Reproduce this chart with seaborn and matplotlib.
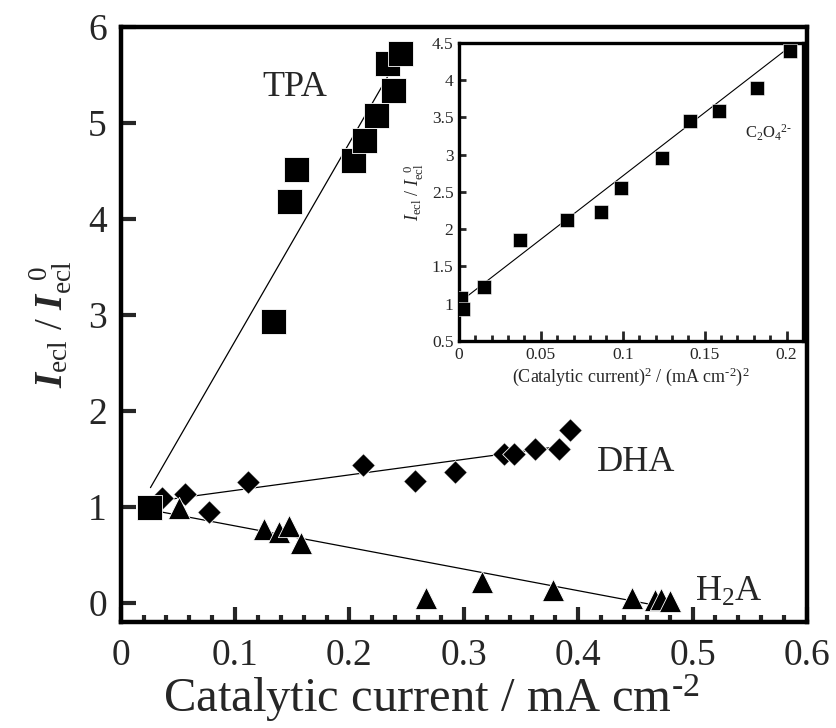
import numpy as np
import pandas as pd
import matplotlib
matplotlib.use("Agg")
import matplotlib.pyplot as plt
from matplotlib.ticker import MultipleLocator
import seaborn as sns

# ---- data ----
tpa_x = [0.025, 0.1335, 0.1467, 0.1534, 0.203, 0.2129, 0.2228, 0.238, 0.2327, 0.2438]
tpa_y = [1.00, 2.94, 4.19, 4.52, 4.61, 4.82, 5.08, 5.34, 5.62, 5.73]

dha_x = [0.036, 0.056, 0.0775, 0.111, 0.212, 0.257, 0.292, 0.335, 0.344, 0.362, 0.3835, 0.393]
dha_y = [1.09, 1.13, 0.95, 1.26, 1.44, 1.27, 1.36, 1.55, 1.55, 1.60, 1.60, 1.80]

h2a_x = [0.051, 0.1257, 0.1385, 0.1467, 0.1575, 0.267, 0.316, 0.378, 0.447, 0.467, 0.472, 0.48]
h2a_y = [0.99, 0.77, 0.74, 0.80, 0.62, 0.05, 0.22, 0.13, 0.05, 0.03, 0.04, 0.02]

# fitted lines (end points)
tpa_fit_x = [0.026, 0.24]
tpa_fit_y = [1.20, 5.62]
dha_fit_x = [0.025, 0.39]
dha_fit_y = [1.05, 1.64]
h2a_fit_x = [0.025, 0.465]
h2a_fit_y = [0.97, -0.02]

# inset: C2O4 2-
ox_x = [0.0006, 0.0012, 0.0025, 0.015, 0.037, 0.066, 0.087, 0.099, 0.124, 0.141, 0.159, 0.182, 0.202]
ox_y = [1.00, 1.08, 0.93, 1.23, 1.85, 2.13, 2.23, 2.56, 2.96, 3.45, 3.59, 3.89, 4.39]
ox_fit_x = [0.0, 0.205]
ox_fit_y = [1.015, 4.50]

sns.set_style("ticks")
plt.rcParams["font.family"] = ["Liberation Serif", "DejaVu Serif"]
plt.rcParams["mathtext.fontset"] = "custom"
plt.rcParams["mathtext.rm"] = "Liberation Serif"
plt.rcParams["mathtext.it"] = "Liberation Serif:italic"
plt.rcParams["mathtext.bf"] = "Liberation Serif:bold:italic"

fig = plt.figure(figsize=(8.36, 7.28), dpi=100)
ax = fig.add_axes([0.1444, 0.1456, 0.8209, 0.8174])

for fx, fy in [(tpa_fit_x, tpa_fit_y), (dha_fit_x, dha_fit_y), (h2a_fit_x, h2a_fit_y)]:
    sns.lineplot(x=fx, y=fy, ax=ax, color="black", linewidth=0.9, zorder=1)

sns.scatterplot(x=dha_x, y=dha_y, ax=ax, marker="D", s=12 ** 2, color="black",
                edgecolor="white", linewidth=0.6, zorder=3)
sns.scatterplot(x=h2a_x, y=h2a_y, ax=ax, marker="^", s=16 ** 2, color="black",
                edgecolor="white", linewidth=0.6, zorder=3)
sns.scatterplot(x=tpa_x, y=tpa_y, ax=ax, marker="s", s=18 ** 2, color="black",
                edgecolor="white", linewidth=0.6, zorder=4)

ax.set_xlim(0, 0.6)
ax.set_ylim(-0.2, 6)
ax.set_xticks(np.arange(0, 0.61, 0.1))
ax.set_xticklabels(["0", "0.1", "0.2", "0.3", "0.4", "0.5", "0.6"])
ax.xaxis.set_minor_locator(MultipleLocator(0.02))
ax.set_yticks(range(0, 7))
ax.set_yticklabels([str(v) for v in range(0, 7)])
ax.tick_params(axis="both", which="major", direction="in", width=3, labelsize=27,
               top=False, right=False, pad=12)
ax.tick_params(axis="x", which="major", length=11)
ax.tick_params(axis="x", which="minor", direction="in", width=3, length=5, top=False)
ax.tick_params(axis="y", which="major", length=11, pad=10)
for sp in ax.spines.values():
    sp.set_linewidth(3.2)
    sp.set_color("black")

ax.set_xlabel(r"Catalytic current / mA cm$^{\text{-}2}$", fontsize=35)
ax.xaxis.set_label_coords(0.452, -0.085)
ax.set_ylabel(r"$\mathbf{I}_{\rm ecl}$ / $\mathbf{I}_{\rm ecl}^{\ \ 0}$", fontsize=28, labelpad=10)

ax.text(0.152, 5.37, "TPA", fontsize=26, ha="center", va="center")
ax.text(0.451, 1.46, "DHA", fontsize=26, ha="center", va="center")
ax.text(0.502, 0.11, "H$_2$A", fontsize=26, ha="left", va="center")

# ---- inset ----
ins = fig.add_axes([0.549, 0.5316, 0.4115, 0.4094])
sns.lineplot(x=ox_fit_x, y=ox_fit_y, ax=ins, color="black", linewidth=0.8, zorder=1)
sns.scatterplot(x=ox_x, y=ox_y, ax=ins, marker="s", s=9.5 ** 2, color="black",
                edgecolor="white", linewidth=0.4, zorder=3)
ins.set_xlim(0, 0.21)
ins.set_ylim(0.5, 4.5)
ins.set_xticks([0, 0.05, 0.1, 0.15, 0.2])
ins.set_xticklabels(["0", "0.05", "0.1", "0.15", "0.2"])
ins.xaxis.set_minor_locator(MultipleLocator(0.01))
ins.set_yticks([0.5, 1, 1.5, 2, 2.5, 3, 3.5, 4, 4.5])
ins.set_yticklabels(["0.5", "1", "1.5", "2", "2.5", "3", "3.5", "4", "4.5"])
ins.tick_params(axis="both", which="major", direction="in", width=2, labelsize=12.5,
                top=False, right=False, pad=4)
ins.tick_params(axis="x", which="major", length=7)
ins.tick_params(axis="x", which="minor", direction="in", width=2, length=4, top=False)
ins.tick_params(axis="y", which="major", length=5)
for sp in ins.spines.values():
    sp.set_linewidth(2.4)
    sp.set_color("black")
ins.set_xlabel(r"(Catalytic current)$^2$ / (mA cm$^{\text{-}2}$)$^2$", fontsize=13, labelpad=2)
ins.set_ylabel(r"$I_{\rm ecl}$ / $I_{\rm ecl}^{\ \ 0}$", fontsize=13, labelpad=4)
ins.text(0.1745, 3.3, r"C$_2$O$_4$$^{2\text{-}}$", fontsize=12, ha="left", va="center")

fig.savefig("out.png", dpi=100)
